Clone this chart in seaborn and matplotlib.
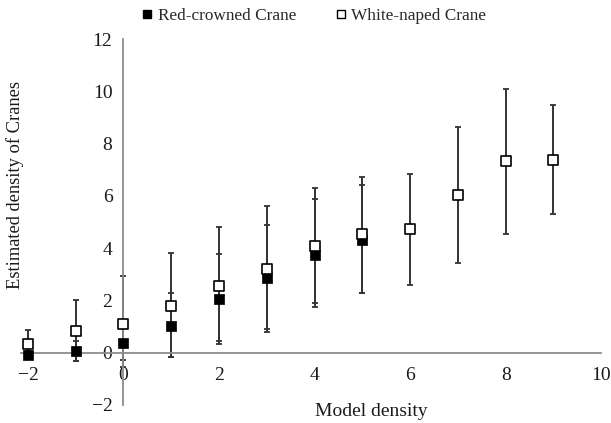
import numpy as np
import pandas as pd
import seaborn as sns
import matplotlib.pyplot as plt
from matplotlib.lines import Line2D

# Valores
x_red = [-2, -1, 0, 1, 2, 3, 4, 5]
y_red = [-0.08, 0.05, 0.39, 1.01, 2.07, 2.85, 3.74, 4.30]
lo_red = [-0.20, -0.30, -0.28, -0.15, 0.45, 0.91, 1.91, 2.30]
hi_red = [0.05, 0.45, 1.06, 2.28, 3.78, 4.87, 5.88, 6.43]

x_white = [-2, -1, 0, 1, 2, 3, 4, 5, 6, 7, 8, 9]
y_white = [0.33, 0.82, 1.10, 1.79, 2.55, 3.21, 4.09, 4.53, 4.72, 6.04, 7.35, 7.39]
lo_white = [-0.21, -0.30, -0.56, -0.15, 0.33, 0.78, 1.75, 2.30, 2.60, 3.44, 4.56, 5.30]
hi_white = [0.87, 2.00, 2.95, 3.83, 4.80, 5.63, 6.30, 6.74, 6.84, 8.65, 10.10, 9.47]

x_ticks = [-2, 0, 2, 4, 6, 8, 10]
y_ticks = [-2, 0, 2, 4, 6, 8, 10, 12]

red = pd.DataFrame({'x': x_red, 'y': y_red, 'lo': lo_red, 'hi': hi_red})
white = pd.DataFrame({'x': x_white, 'y': y_white, 'lo': lo_white, 'hi': hi_white})

sns.set_style('white')
plt.rcParams['font.family'] = ['Liberation Serif', 'DejaVu Serif']

fig = plt.figure(figsize=(6.11, 4.23), dpi=100)
ax = fig.add_axes([0.034, 0.0426, 0.950, 0.865])

# barras de error
for d in (red, white):
    ax.errorbar(d['x'], d['y'], yerr=[d['y'] - d['lo'], d['hi'] - d['y']],
                fmt='none', ecolor='#333333', elinewidth=1.4, capsize=2.4,
                capthick=1.3, zorder=2, clip_on=False)

sns.scatterplot(data=red, x='x', y='y', marker='s', color='black', s=44,
                edgecolor='black', linewidth=0.5, ax=ax, zorder=3, clip_on=False)
sns.scatterplot(data=white, x='x', y='y', marker='s', color='white', s=52,
                edgecolor='black', linewidth=1.2, ax=ax, zorder=4, clip_on=False)

ax.set_xlim(-2.15, 10)
ax.set_ylim(-2, 12)
ax.set_xticks(x_ticks)
ax.set_yticks(y_ticks)

# ejes cruzando en el origen
ax.spines['left'].set_position(('data', 0))
ax.spines['bottom'].set_position(('data', 0))
ax.spines['top'].set_visible(False)
ax.spines['right'].set_visible(False)
for s in ('left', 'bottom'):
    ax.spines[s].set_color('#8c8c8c')
    ax.spines[s].set_linewidth(1.3)
ax.tick_params(axis='both', colors='#8c8c8c', length=5, width=1.0,
               labelsize=14, labelcolor='#1a1a1a')
ax.tick_params(axis='x', direction='out', pad=5)
ax.tick_params(axis='y', direction='out', pad=3)

ax.set_xlabel('Model density', fontsize=14, color='#1a1a1a')
ax.xaxis.set_label_coords(0.604, -0.019)
ax.xaxis.label.set_va('center')
ax.set_ylabel('Estimated density of Cranes', fontsize=13.3, color='#1a1a1a')
ax.yaxis.set_label_coords(-0.01, 0.6)
ax.yaxis.label.set_va('center')

handles = [
    Line2D([], [], marker='s', linestyle='none', markerfacecolor='black',
           markeredgecolor='black', markersize=5.5),
    Line2D([], [], marker='s', linestyle='none', markerfacecolor='white',
           markeredgecolor='black', markeredgewidth=1.0, markersize=5.5),
]
fig.legend(handles, ['Red-crowned Crane', 'White-naped Crane'], loc='center',
           bbox_to_anchor=(314 / 611, 1 - 16 / 423), ncol=2, frameon=False,
           fontsize=12.4, handlelength=0.6, handletextpad=0.3,
           columnspacing=2.3, borderpad=0, borderaxespad=0)

fig.savefig('out.png', dpi=100)
